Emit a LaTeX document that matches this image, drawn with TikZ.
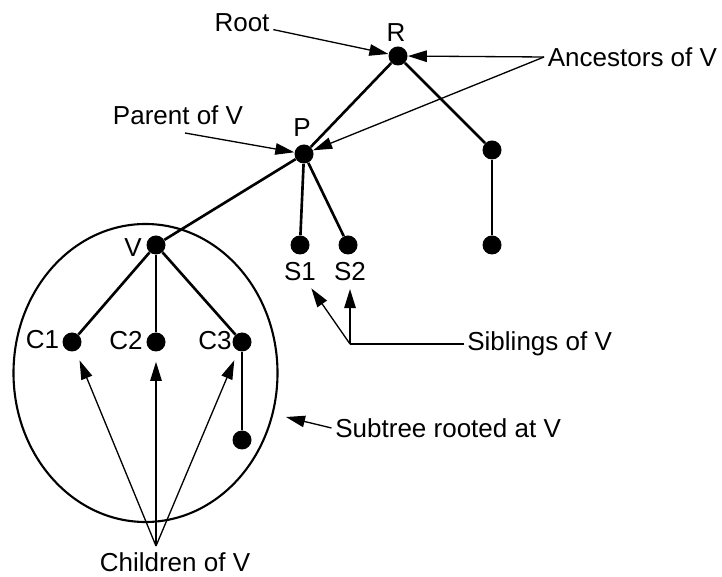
\documentclass[tikz,border=0pt]{standalone}
\usepackage{fontspec}
\setmainfont{Liberation Sans}
\usetikzlibrary{arrows.meta,shapes.geometric}
\newcommand{\lblfont}{\fontsize{14.8}{18}\selectfont}
\newcommand{\picscale}{1}

\begin{document}
\begin{tikzpicture}[scale = \picscale,
  dot/.style = {circle, fill = black, inner sep = 0pt, minimum size = 0.38cm},
  txt/.style = {font = \lblfont, inner sep = 2pt},
  arr/.style = {line width = 0.75pt, -{Triangle[length = 0.38cm, width = 0.23cm]}}]
\useasboundingbox (0,0) rectangle (14.44,11.52);

% subtree of V
\node [draw, ellipse, line width = 1.2pt, minimum width = 5.28cm, minimum height = 5.96cm] (sub) at (2.91,4.06) {};

% tree
\node [dot] (v1) at (7.96,10.40) {};
\node [dot] (v2) at (6.08,8.44) {};
\node [dot] (v3) at (9.84,8.52) {};
\node [dot] (v4) at (9.84,6.62) {};
\node [dot] (v5) at (6.00,6.62) {};
\node [dot] (v6) at (6.96,6.62) {};
\node [dot] (v7) at (3.12,6.62) {};
\node [dot] (v8) at (1.44,4.68) {};
\node [dot] (v9) at (3.12,4.68) {};
\node [dot] (v10) at (4.84,4.68) {};
\node [dot] (v11) at (4.84,2.72) {};

\node [txt] (l1) at (7.92,10.86) {R};
\node [txt] (l2) at (6.04,8.96) {P};
\node [txt] (l5) at (6.00,6.08) {S1};
\node [txt] (l6) at (7.00,6.08) {S2};
\node [txt] (l7) at (2.66,6.56) {V};
\node [txt] (l8) at (0.85,4.72) {C1};
\node [txt] (l9) at (2.52,4.70) {C2};
\node [txt] (l10) at (4.30,4.70) {C3};

\draw [line width = 1.5pt] (v1) edge (v2);
\draw [line width = 1.5pt] (v1) edge (v3);
\draw [line width = 1.5pt] (v3) edge (v4);
\draw [line width = 1.5pt] (v2) edge (v5);
\draw [line width = 1.5pt] (v2) edge (v6);
\draw [line width = 1.5pt] (v2) edge (v7);
\draw [line width = 1.5pt] (v7) edge (v8);
\draw [line width = 1.5pt] (v7) edge (v9);
\draw [line width = 1.5pt] (v7) edge (v10);
\draw [line width = 1.5pt] (v10) edge (v11);

% annotations
\node [txt] (troot) at (4.84,11.06) {Root};
\node [txt, anchor = west] (tanc) at (10.88,10.38) {Ancestors of V};
\node [txt] (tpar) at (3.56,9.22) {Parent of V};
\node [txt, anchor = west] (tsib) at (9.27,4.64) {Siblings of V};
\node [txt, anchor = west] (tsub) at (6.63,2.96) {Subtree rooted at V};
\node [txt] (tchi) at (3.50,0.27) {Children of V};

\coordinate (parTail) at (3.70,8.86);
\coordinate (sibV) at (7.00,4.64);
\coordinate (subTip) at (5.72,3.18);
\coordinate (chV) at (3.12,0.60);

\draw [arr] (troot) -- (v1);
\draw [arr] (tanc.west) -- (v1);
\draw [arr] (tanc.west) -- (v2);
\draw [arr] (parTail) -- (v2);
\draw [line width = 0.75pt] (tsib.west) -- (sibV);
\draw [arr, shorten >= 0.08cm] (sibV) -- (l5);
\draw [arr, shorten >= 0.08cm] (sibV) -- (l6);
\draw [arr] (tsub.west) -- (subTip);
\draw [arr, shorten >= 0.2cm] (chV) -- (v8);
\draw [arr, shorten >= 0.2cm] (chV) -- (v9);
\draw [arr, shorten >= 0.2cm] (chV) -- (v10);
\end{tikzpicture}
\end{document}
